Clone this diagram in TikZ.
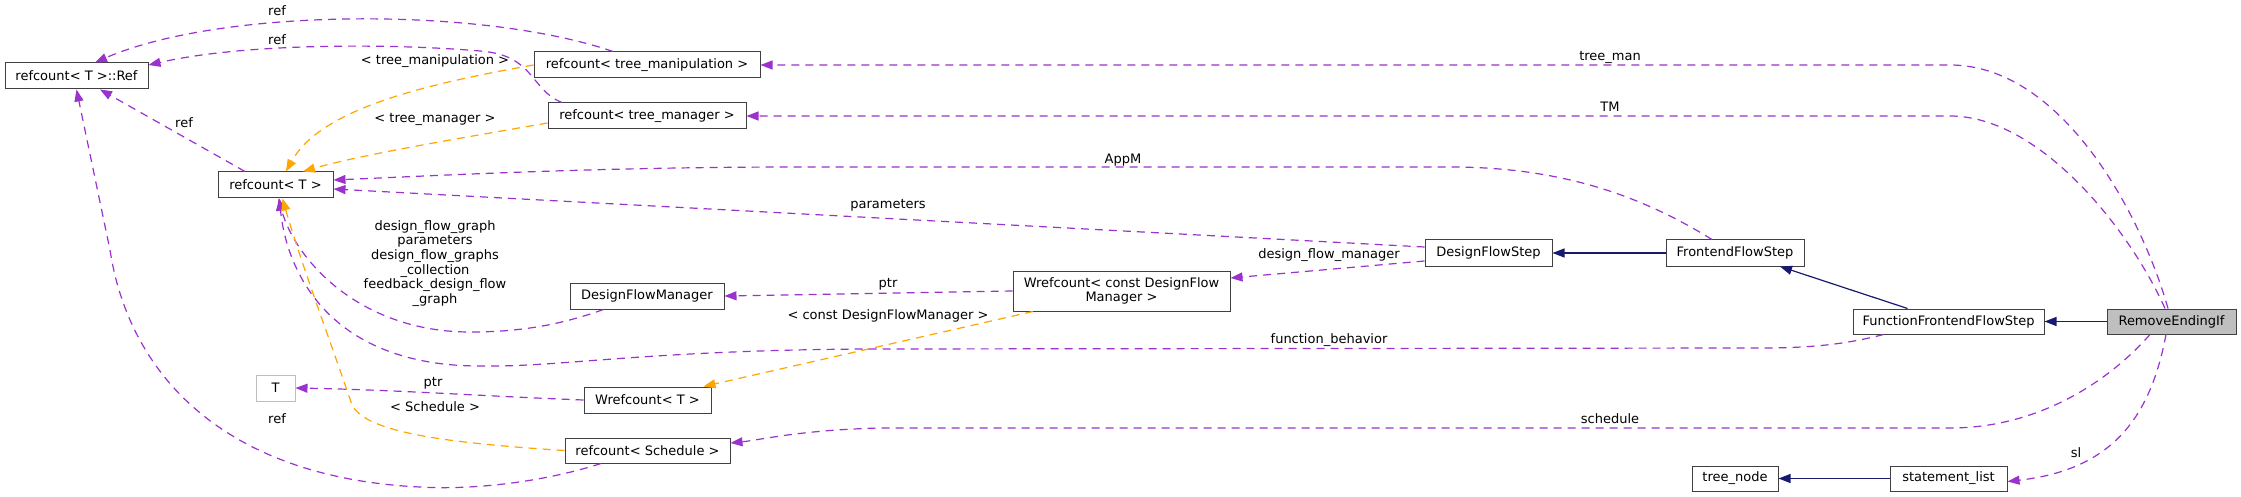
\documentclass[tikz,border=0pt]{standalone}
\usepackage{fontspec}
\newfontfamily\dvs{DejaVu Sans}
\usetikzlibrary{arrows.meta,calc}
\definecolor{purp}{HTML}{9A32CD}
\definecolor{orng}{HTML}{FFA500}
\definecolor{navyb}{HTML}{191970}
\definecolor{bord}{HTML}{404040}
\definecolor{tgray}{HTML}{BFBFBF}
\definecolor{selfill}{HTML}{BFBFBF}
\begin{document}
\begin{tikzpicture}[x=1pt,y=-1pt,
  box/.style={draw=bord, fill=white, line width=1pt, inner sep=0pt, minimum height=26pt,
    font={\dvs\fontsize{13}{14.5}\selectfont}, align=center},
  lbl/.style={inner sep=0pt, font={\dvs\fontsize{13}{14.7}\selectfont}, align=center, text=black},
  dep/.style={draw=purp, line width=1.2pt, dash pattern=on 8pt off 6pt, -{Triangle[length=12pt,width=9pt]}},
  tmpl/.style={draw=orng, line width=1.2pt, dash pattern=on 8pt off 6pt, -{Triangle[length=12pt,width=9pt]}},
  inh/.style={draw=navyb, line width=1.2pt, -{Triangle[length=12pt,width=9pt]}}]
\useasboundingbox (0,0) rectangle (2241,497);
\fill[white] (0,0) rectangle (2241,497);

% nodes
\node[box, minimum width=143pt] (Ref) at (76.5,76) {refcount< T >::Ref};
\node[box, minimum width=115pt] (RT) at (275.5,185) {refcount< T >};
\node[box, minimum width=226pt] (RTMP) at (647,65) {refcount< tree\_manipulation >};
\node[box, minimum width=198pt] (RTM) at (647,116) {refcount< tree\_manager >};
\node[box, minimum width=154pt] (DFM) at (647,296) {DesignFlowManager};
\node[box, draw=tgray, minimum width=39pt] (T) at (275.5,388) {T};
\node[box, minimum width=127pt] (WT) at (647.5,400) {Wrefcount< T >};
\node[box, minimum width=165pt, minimum height=25pt] (RS) at (647.5,450.5) {refcount< Schedule >};
\node[box, minimum width=217pt, minimum height=40pt] (WDFM) at (1121.5,291) {Wrefcount< const DesignFlow\\Manager >};
\node[box, minimum width=127pt] (DFS) at (1488.5,253) {DesignFlowStep};
\node[box, minimum width=138pt] (FFS) at (1735,253) {FrontendFlowStep};
\node[box, minimum width=191pt, minimum height=25pt] (FFFS) at (1948.5,321.5) {FunctionFrontendFlowStep};
\node[box, fill=selfill, minimum width=129pt, minimum height=25pt] (REI) at (2171.5,321.5) {RemoveEndingIf};
\node[box, minimum width=117pt, minimum height=25pt] (SL) at (1948.5,478.5) {statement\_list};
\node[box, minimum width=86pt, minimum height=25pt] (TN) at (1735,478.5) {tree\_node};

% inheritance
\draw[inh] (REI.west) -- (FFFS.east);
\draw[inh] ([xshift=-41pt]FFFS.north) -- ([xshift=45pt]FFS.south);
\draw[inh] (FFS.west) -- (DFS.east);
\draw[inh] (SL.west) -- (TN.east);

% tree_man
\draw[dep] ([xshift=-3.5pt]REI.north) .. controls (2140,210) and (2060,65) .. (1950,65) -- (RTMP.east);
\node[lbl] (l1) at (1610,57) {tree\_man};
% TM
\draw[dep] ([xshift=-6.5pt]REI.north) .. controls (2130,230) and (2040,116) .. (1950,116) -- (RTM.east);
\node[lbl] (l2) at (1610,107) {TM};
% AppM
\draw[dep] ([xshift=-23pt]FFS.north) .. controls (1640,195) and (1560,167) .. (1450,167) -- (800,167) .. controls (600,167) and (450,175) .. ([yshift=5pt]RT.east);
\node[lbl] (l3) at (1123,160) {AppM};
% parameters
\draw[dep] ([yshift=6pt]DFS.west) -- ([yshift=-4pt]RT.east);
\node[lbl] (l4) at (888,205) {parameters};
% design_flow_manager
\draw[dep] ([yshift=-8pt]DFS.west) -- ([yshift=13pt]WDFM.east);
\node[lbl] (l5) at (1329,255) {design\_flow\_manager};
% ptr DFM
\draw[dep] (WDFM.west) -- (DFM.east);
\node[lbl] (l6) at (888,284) {ptr};
% const DFM template
\draw[tmpl] ([xshift=-88.5pt]WDFM.south) -- ([xshift=56pt]WT.north);
\node[lbl] (l7) at (888,316) {< const DesignFlowManager >};
% function_behavior
\draw[dep] ([xshift=-65pt]FFFS.south) .. controls (1840,346) and (1800,348) .. (1760,348) -- (870,349) .. controls (650,350) and (560,367) .. (485,366) .. controls (320,368) and (285,260) .. ([xshift=4pt]RT.south);
\node[lbl] (l8) at (1329,340) {function\_behavior};
% DFM -> RT
\draw[dep] ([xshift=-43.5pt]DFM.south) .. controls (560,325) and (520,332) .. (470,332) .. controls (360,332) and (295,260) .. ([xshift=3pt]RT.south);
\node[lbl] (l9) at (435,263.5) {design\_flow\_graph\\parameters\\design\_flow\_graphs\\\_collection\\feedback\_design\_flow\\\_graph};
% ptr T
\draw[dep] (WT.west) .. controls (480,396) and (400,390) .. (T.east);
\node[lbl] (l10) at (433,383) {ptr};
% Schedule template
\draw[tmpl] (RS.west) .. controls (430,442) and (365,430) .. (352,405) .. controls (330,340) and (300,260) .. ([xshift=7pt]RT.south);
\node[lbl] (l11) at (435,407) {< Schedule >};
% ref bottom
\draw[dep] ([xshift=-46.5pt]RS.south) .. controls (540,483) and (470,490) .. (420,487) .. controls (230,478) and (130,380) .. (110,250) -- (Ref.south);
\node[lbl] (l12) at (277,419) {ref};
% schedule
\draw[dep] ([xshift=-21.5pt]REI.south) .. controls (2110,380) and (2040,428) .. (1950,428) -- (880,428) .. controls (800,430) and (760,440) .. ([yshift=7.5pt]RS.east);
\node[lbl] (l13) at (1610,419) {schedule};
% sl
\draw[dep] ([xshift=-5.5pt]REI.south) .. controls (2150,420) and (2110,470) .. ([yshift=-3pt]SL.east);
\node[lbl] (l14) at (2076,453) {sl};
% ref RT -> Ref
\draw[dep] ([xshift=-30.5pt]RT.north) -- ([xshift=23.5pt]Ref.south);
\node[lbl] (l15) at (184,123) {ref};
% ref top
\draw[dep] ([xshift=-34pt]RTMP.north) .. controls (480,6) and (220,8) .. ([xshift=18.5pt]Ref.north);
\node[lbl] (l16) at (277,11) {ref};
% ref second
\draw[dep] ([xshift=-85pt]RTM.north) .. controls (530,90) and (535,55) .. (480,51) .. controls (400,44) and (250,42) .. ([yshift=11pt]Ref.east);
\node[lbl] (l17) at (277,40) {ref};
% tree_manipulation template
\draw[tmpl] (RTMP.west) .. controls (420,85) and (320,110) .. ([xshift=10.5pt]RT.north);
\node[lbl] (l18) at (435,61) {< tree\_manipulation >};
% tree_manager template
\draw[tmpl] ([yshift=-7pt]RTM.west) .. controls (450,140) and (360,155) .. ([xshift=27.5pt]RT.north);
\node[lbl] (l19) at (435,119) {< tree\_manager >};
\end{tikzpicture}
\end{document}
